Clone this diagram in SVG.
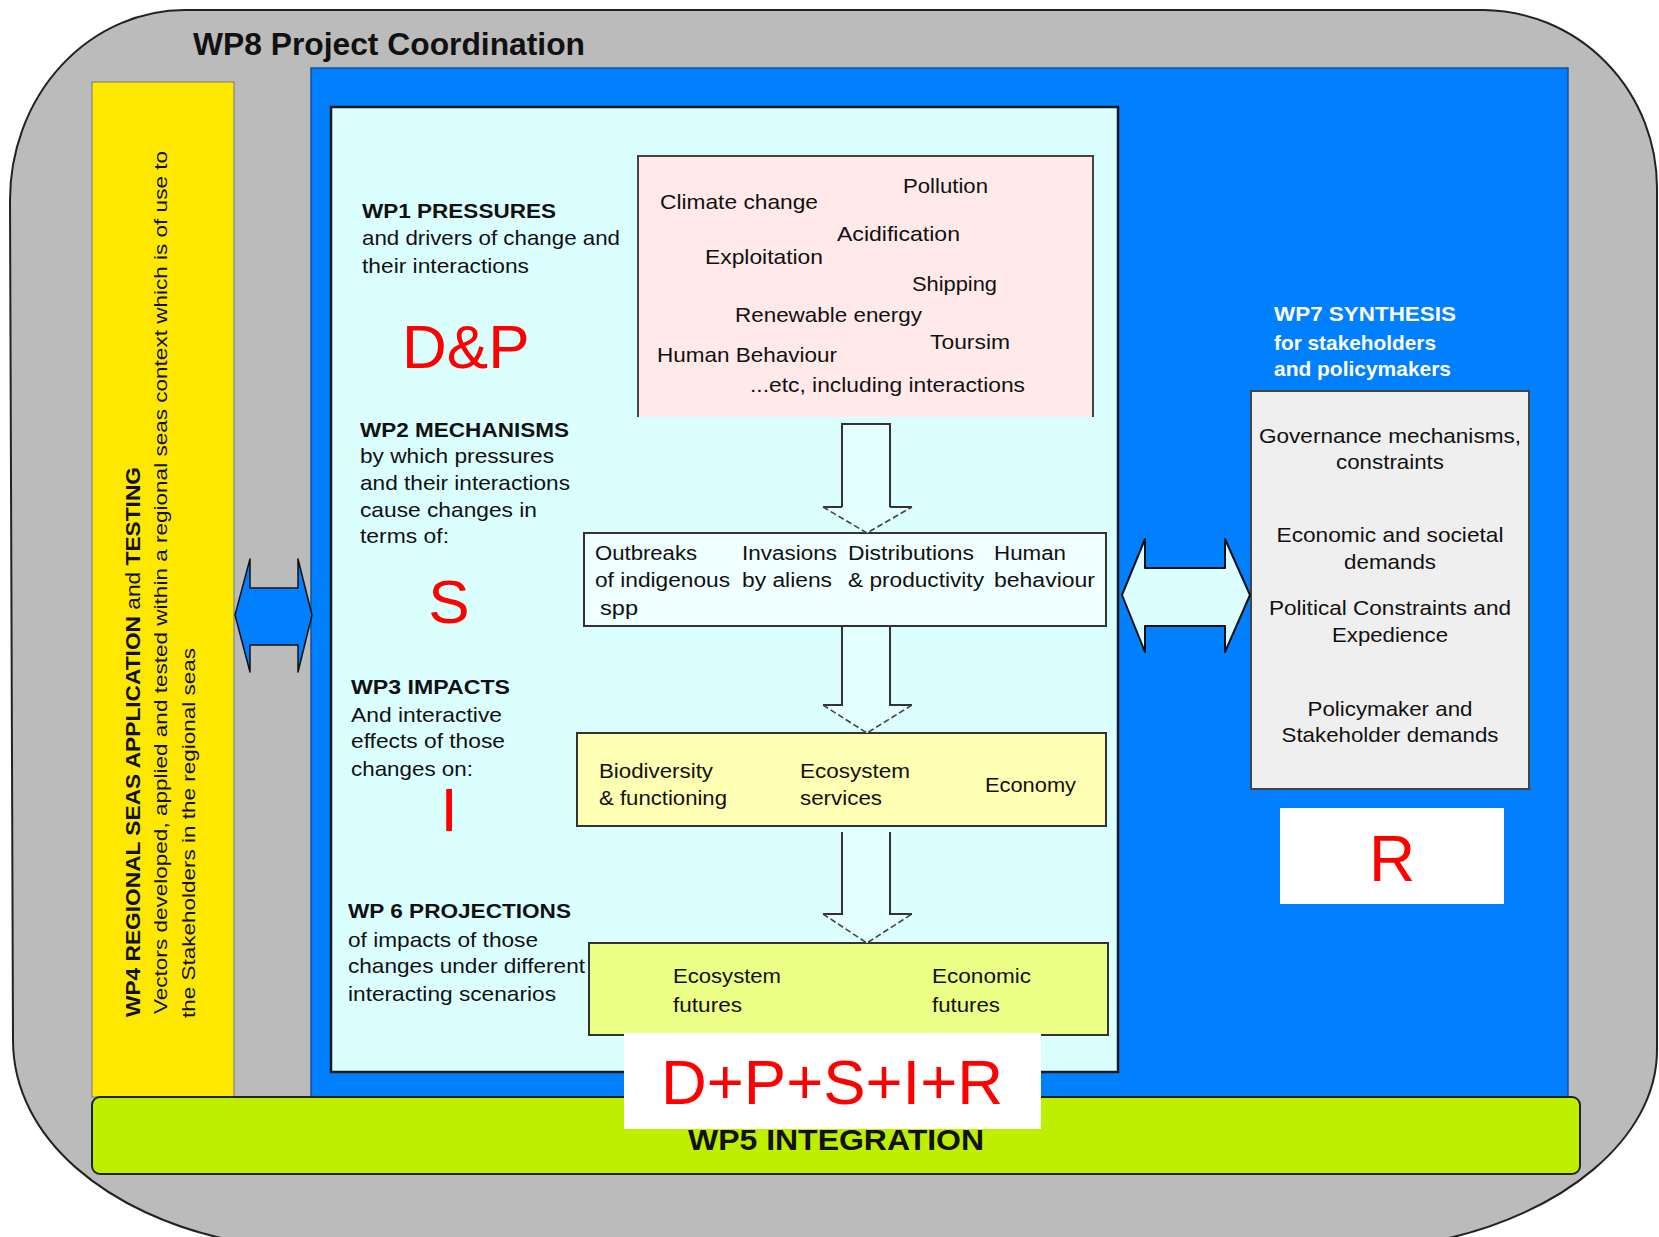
<svg xmlns="http://www.w3.org/2000/svg" width="1659" height="1237" viewBox="0 0 1659 1237">
<defs>
<style>
.t{font-family:"Liberation Sans",Arial,sans-serif;fill:#111}
.b{font-weight:bold}
.w{fill:#fff}
.red{font-family:"Liberation Sans",Arial,sans-serif;fill:#ff0000}
.box{stroke:#333;stroke-width:2}
.afill{fill:#e4ffff;stroke:none}
.aside{fill:none;stroke:#333;stroke-width:2}
.ahead{fill:none;stroke:#444;stroke-width:1.6;stroke-dasharray:6 3}
</style>
</defs>
<rect x="0" y="0" width="1659" height="1237" fill="#ffffff"/>
<g id="wp8">
<path d="M185,10 L1483,10 A175,178 0 0 1 1657,188 L1657,1050 C1657,1140 1560,1215 1440,1240 L230,1240 C110,1215 13,1140 13,1040 L10,200 A175,190 0 0 1 185,10 Z" fill="#bbbbbb" stroke="#222" stroke-width="2"/>
<text class="t b" x="193" y="55" font-size="31" textLength="392" lengthAdjust="spacingAndGlyphs">WP8 Project Coordination</text>
</g>
<g id="blue-area">
<rect x="311" y="68" width="1257" height="1029" fill="#0080ff" stroke="#1a4f9a" stroke-width="1.5"/>
</g>
<g id="wp4">
<rect x="92" y="82" width="142" height="1015" fill="#ffe800" stroke="#777" stroke-width="1"/>
<text class="t b" font-size="21" transform="translate(140,1017) rotate(-90)" textLength="550" lengthAdjust="spacingAndGlyphs">WP4 REGIONAL SEAS APPLICATION <tspan font-weight="normal">and</tspan> TESTING</text>
<text class="t" font-size="19" transform="translate(167,1014) rotate(-90)" textLength="863" lengthAdjust="spacingAndGlyphs">Vectors developed, applied and tested within a regional seas context which is of use to</text>
<text class="t" font-size="19" transform="translate(195,1018) rotate(-90)" textLength="370" lengthAdjust="spacingAndGlyphs">the Stakeholders in the regional seas</text>
</g>
<g id="wp5">
<rect x="92" y="1097" width="1488" height="77" rx="8" fill="#bfef00" stroke="#222" stroke-width="2"/>
<text class="t b" x="688" y="1150" font-size="30" textLength="296" lengthAdjust="spacingAndGlyphs">WP5 INTEGRATION</text>
</g>
<g id="main-panel">
<rect x="331" y="107" width="787" height="965" fill="#dbffff" stroke="#1a1a1a" stroke-width="2.5"/>
</g>
<g id="wp1">
<text class="t b" x="362" y="218" font-size="20.5" textLength="194" lengthAdjust="spacingAndGlyphs">WP1 PRESSURES</text>
<text class="t" x="362" y="245" font-size="21" textLength="258" lengthAdjust="spacingAndGlyphs">and drivers of change and</text>
<text class="t" x="362" y="273" font-size="21" textLength="167" lengthAdjust="spacingAndGlyphs">their interactions</text>
<text class="red" x="402" y="368" font-size="62">D&amp;P</text>
</g>
<g id="pressures">
<path d="M638,417 L638,156 L1093,156 L1093,417 Z" fill="#ffe9e9" stroke="none"/>
<path d="M638,417 L638,156 L1093,156 L1093,417" fill="none" stroke="#444" stroke-width="2"/>
<text class="t" x="903" y="193" font-size="21" textLength="85" lengthAdjust="spacingAndGlyphs">Pollution</text>
<text class="t" x="660" y="209" font-size="21" textLength="158" lengthAdjust="spacingAndGlyphs">Climate change</text>
<text class="t" x="837" y="241" font-size="21" textLength="123" lengthAdjust="spacingAndGlyphs">Acidification</text>
<text class="t" x="705" y="264" font-size="21" textLength="118" lengthAdjust="spacingAndGlyphs">Exploitation</text>
<text class="t" x="912" y="291" font-size="21" textLength="85" lengthAdjust="spacingAndGlyphs">Shipping</text>
<text class="t" x="735" y="322" font-size="21" textLength="187" lengthAdjust="spacingAndGlyphs">Renewable energy</text>
<text class="t" x="930" y="349" font-size="21" textLength="80" lengthAdjust="spacingAndGlyphs">Toursim</text>
<text class="t" x="657" y="362" font-size="21" textLength="180" lengthAdjust="spacingAndGlyphs">Human Behaviour</text>
<text class="t" x="750" y="392" font-size="21" textLength="275" lengthAdjust="spacingAndGlyphs">...etc, including interactions</text>
</g>
<g id="wp2">
<text class="t b" x="360" y="437" font-size="20.5" textLength="209" lengthAdjust="spacingAndGlyphs">WP2 MECHANISMS</text>
<text class="t" x="360" y="463" font-size="21" textLength="194" lengthAdjust="spacingAndGlyphs">by which pressures</text>
<text class="t" x="360" y="490" font-size="21" textLength="210" lengthAdjust="spacingAndGlyphs">and their interactions</text>
<text class="t" x="360" y="517" font-size="21" textLength="177" lengthAdjust="spacingAndGlyphs">cause changes in</text>
<text class="t" x="360" y="543" font-size="21" textLength="89" lengthAdjust="spacingAndGlyphs">terms of:</text>
<text class="red" x="449" y="623" font-size="62" text-anchor="middle">S</text>
</g>
<g id="mechanisms">
<rect class="box" x="584" y="533" width="522" height="93" fill="#f0ffff"/>
<text class="t" x="595" y="560" font-size="20" textLength="102" lengthAdjust="spacingAndGlyphs">Outbreaks</text>
<text class="t" x="595" y="587" font-size="20" textLength="135" lengthAdjust="spacingAndGlyphs">of indigenous</text>
<text class="t" x="600" y="615" font-size="20" textLength="38" lengthAdjust="spacingAndGlyphs">spp</text>
<text class="t" x="742" y="560" font-size="20" textLength="95" lengthAdjust="spacingAndGlyphs">Invasions</text>
<text class="t" x="742" y="587" font-size="20" textLength="90" lengthAdjust="spacingAndGlyphs">by aliens</text>
<text class="t" x="848" y="560" font-size="20" textLength="126" lengthAdjust="spacingAndGlyphs">Distributions</text>
<text class="t" x="848" y="587" font-size="20" textLength="136" lengthAdjust="spacingAndGlyphs">&amp; productivity</text>
<text class="t" x="994" y="560" font-size="20" textLength="72" lengthAdjust="spacingAndGlyphs">Human</text>
<text class="t" x="994" y="587" font-size="20" textLength="101" lengthAdjust="spacingAndGlyphs">behaviour</text>
</g>
<g id="wp3">
<text class="t b" x="351" y="694" font-size="20.5" textLength="159" lengthAdjust="spacingAndGlyphs">WP3 IMPACTS</text>
<text class="t" x="351" y="722" font-size="21" textLength="151" lengthAdjust="spacingAndGlyphs">And interactive</text>
<text class="t" x="351" y="748" font-size="21" textLength="154" lengthAdjust="spacingAndGlyphs">effects of those</text>
<text class="t" x="351" y="776" font-size="21" textLength="122" lengthAdjust="spacingAndGlyphs">changes on:</text>
<text class="red" x="449" y="831" font-size="62" text-anchor="middle">I</text>
</g>
<g id="impacts">
<rect class="box" x="577" y="733" width="529" height="93" fill="#ffffb3"/>
<text class="t" x="599" y="778" font-size="20" textLength="114" lengthAdjust="spacingAndGlyphs">Biodiversity</text>
<text class="t" x="599" y="805" font-size="20" textLength="128" lengthAdjust="spacingAndGlyphs">&amp; functioning</text>
<text class="t" x="800" y="778" font-size="20" textLength="110" lengthAdjust="spacingAndGlyphs">Ecosystem</text>
<text class="t" x="800" y="805" font-size="20" textLength="82" lengthAdjust="spacingAndGlyphs">services</text>
<text class="t" x="985" y="792" font-size="20" textLength="91" lengthAdjust="spacingAndGlyphs">Economy</text>
</g>
<g id="wp6">
<text class="t b" x="348" y="918" font-size="20.5" textLength="223" lengthAdjust="spacingAndGlyphs">WP 6 PROJECTIONS</text>
<text class="t" x="348" y="947" font-size="21" textLength="190" lengthAdjust="spacingAndGlyphs">of impacts of those</text>
<text class="t" x="348" y="973" font-size="21" textLength="237" lengthAdjust="spacingAndGlyphs">changes under different</text>
<text class="t" x="348" y="1001" font-size="21" textLength="208" lengthAdjust="spacingAndGlyphs">interacting scenarios</text>
</g>
<g id="futures">
<rect class="box" x="589" y="943" width="519" height="92" fill="#ecff86"/>
<text class="t" x="673" y="983" font-size="20" textLength="108" lengthAdjust="spacingAndGlyphs">Ecosystem</text>
<text class="t" x="673" y="1012" font-size="20" textLength="69" lengthAdjust="spacingAndGlyphs">futures</text>
<text class="t" x="932" y="983" font-size="20" textLength="99" lengthAdjust="spacingAndGlyphs">Economic</text>
<text class="t" x="932" y="1012" font-size="20" textLength="68" lengthAdjust="spacingAndGlyphs">futures</text>
</g>
<g id="dpsir">
<rect x="624" y="1033" width="417" height="96" fill="#ffffff"/>
<text class="red" x="661" y="1104" font-size="63" textLength="342" lengthAdjust="spacingAndGlyphs">D+P+S+I+R</text>
</g>
<g id="wp7">
<text class="t b w" x="1274" y="321" font-size="21" textLength="182" lengthAdjust="spacingAndGlyphs">WP7 SYNTHESIS</text>
<text class="t b w" x="1274" y="350" font-size="21" textLength="162" lengthAdjust="spacingAndGlyphs">for stakeholders</text>
<text class="t b w" x="1274" y="376" font-size="21" textLength="177" lengthAdjust="spacingAndGlyphs">and policymakers</text>
<rect x="1251" y="391" width="278" height="398" fill="#efefef" stroke="#444" stroke-width="2"/>
<g text-anchor="middle">
<text class="t" x="1390" y="443" font-size="21" textLength="262" lengthAdjust="spacingAndGlyphs">Governance mechanisms,</text>
<text class="t" x="1390" y="469" font-size="21" textLength="108" lengthAdjust="spacingAndGlyphs">constraints</text>
<text class="t" x="1390" y="542" font-size="21" textLength="227" lengthAdjust="spacingAndGlyphs">Economic and societal</text>
<text class="t" x="1390" y="569" font-size="21" textLength="92" lengthAdjust="spacingAndGlyphs">demands</text>
<text class="t" x="1390" y="615" font-size="21" textLength="242" lengthAdjust="spacingAndGlyphs">Political Constraints and</text>
<text class="t" x="1390" y="642" font-size="21" textLength="116" lengthAdjust="spacingAndGlyphs">Expedience</text>
<text class="t" x="1390" y="716" font-size="21" textLength="165" lengthAdjust="spacingAndGlyphs">Policymaker and</text>
<text class="t" x="1390" y="742" font-size="21" textLength="217" lengthAdjust="spacingAndGlyphs">Stakeholder demands</text>
</g>
</g>
<g id="response">
<rect x="1280" y="808" width="224" height="96" fill="#ffffff"/>
<text class="red" x="1392" y="881" font-size="64" text-anchor="middle">R</text>
</g>
<g id="connectors">
<path class="afill" d="M842,424 L890,424 L890,507 L912,507 L867,533 L823,507 L842,507 Z"/>
<path class="aside" d="M842,507 L842,424 L890,424 L890,507"/>
<path class="aside" d="M842,507 L823,507 M890,507 L912,507"/>
<path class="ahead" d="M823,507 L867,533 L912,507"/>
<path class="afill" d="M842,627 L890,627 L890,705 L912,705 L867,733 L823,705 L842,705 Z"/>
<path class="aside" d="M842,627 L842,705 L823,705 M890,627 L890,705 L912,705"/>
<path class="ahead" d="M823,705 L867,733 L912,705"/>
<path class="afill" d="M842,832 L890,832 L890,914 L912,914 L867,943 L823,914 L842,914 Z"/>
<path class="aside" d="M842,832 L842,914 L823,914 M890,832 L890,914 L912,914"/>
<path class="ahead" d="M823,914 L867,943 L912,914"/>
<path d="M235,615 L250,559 L250,588 L298,588 L298,559 L312,615 L298,672 L298,645 L250,645 L250,672 Z" fill="#0080ff" stroke="#111" stroke-width="1.5" stroke-linejoin="round"/>
<path d="M1122,595 L1145,539 L1145,568 L1225,568 L1225,539 L1250,595 L1225,652 L1225,626 L1145,626 L1145,652 Z" fill="#dbffff" stroke="#111" stroke-width="2" stroke-linejoin="round"/>
</g>
</svg>
